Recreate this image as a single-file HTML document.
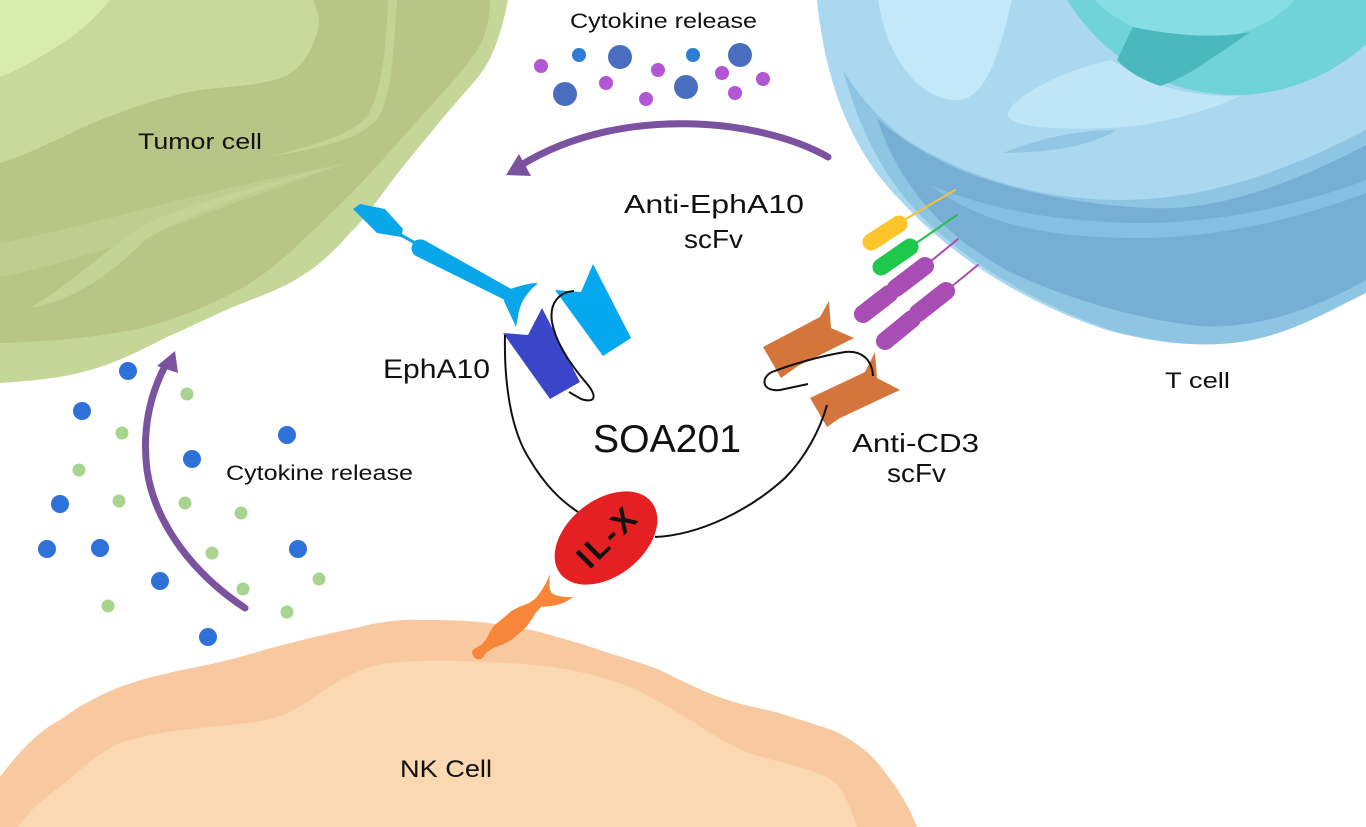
<!DOCTYPE html>
<html>
<head>
<meta charset="utf-8">
<style>
html,body{margin:0;padding:0;background:#fff;}
svg{display:block;}
text{font-family:"Liberation Sans","Noto Sans CJK JP",sans-serif;fill:#111;}
</style>
</head>
<body>
<svg width="1366" height="827" viewBox="0 0 1366 827" xmlns="http://www.w3.org/2000/svg">
<rect width="1366" height="827" fill="#fff"/>

<!-- ===== Tumor cell ===== -->
<path fill="#c4d698" d="M0,0 L508,0 C500,40 490,65 473,83 C460,98 445,115 433,130 C415,152 398,172 383,193 C370,210 362,222 350,233 C335,250 320,265 300,277 C280,290 255,298 233,307 C210,317 190,327 167,337 C145,348 122,360 100,367 C75,375 50,380 0,383 Z"/>
<path fill="#b8c587" d="M0,0 L490,0 C490,20 485,38 477,50 C463,72 445,90 427,110 C407,132 387,155 367,177 C345,200 322,222 300,243 C280,262 258,280 233,293 C200,310 165,323 133,330 C90,338 45,342 0,343 Z"/>
<path fill="#bfcd90" d="M0,243 C60,232 120,215 180,200 C240,185 300,172 347,163 C300,180 240,200 190,220 C120,245 60,265 0,277 Z"/>
<path fill="#c3d496" d="M347,163 C280,180 200,200 150,222 C110,245 70,285 30,308 C75,300 110,275 145,240 C190,212 270,185 347,163 Z"/>
<path fill="#c3d496" d="M388,0 L397,0 C393,55 392,95 378,118 C360,140 320,148 268,157 C315,145 352,135 368,115 C382,90 386,50 388,0 Z"/>
<path fill="#c9d99b" d="M0,0 L313,0 C320,15 320,25 317,33 C310,55 300,70 283,77 C260,86 230,86 200,90 C165,96 130,108 100,120 C65,135 35,152 0,163 Z"/>
<path fill="#d8ecb0" d="M0,0 L110,0 C95,18 82,30 67,40 C45,55 22,68 0,77 Z"/>

<!-- ===== T cell ===== -->
<path fill="#a9d8ef" d="M817,0 C825,80 850,150 900,200 C950,255 1020,300 1100,328 C1150,343 1200,348 1240,342 C1290,335 1330,310 1366,293 L1366,0 Z"/>
<path fill="#8dc5e3" d="M843,70 C862,140 890,185 925,220 C975,268 1040,305 1110,330 C1160,344 1205,347 1240,342 C1290,335 1330,310 1366,293 L1366,130 C1280,175 1200,200 1120,200 C1030,200 950,170 900,135 C872,112 855,90 843,70 Z"/>
<path fill="#77aed4" d="M877,118 C900,190 950,240 1010,272 C1070,300 1140,320 1200,326 C1260,330 1320,306 1366,280 L1366,145 C1300,180 1220,212 1150,208 C1080,205 1010,190 960,170 C920,152 895,135 877,118 Z"/>
<path fill="#86bfe1" d="M930,185 C990,210 1060,222 1140,223 C1220,223 1300,205 1366,180 L1366,193 C1300,218 1220,238 1140,238 C1060,238 985,228 930,185 Z"/>
<path fill="#92c6e5" d="M1003,153 C1040,138 1080,130 1117,130 C1090,145 1060,152 1003,153 Z"/>
<path fill="#c3e8f7" d="M878,0 C888,65 925,103 960,100 C990,96 1002,40 1012,0 Z"/>
<path fill="#bfe6f6" d="M1008,113 C1015,95 1060,72 1110,60 L1160,85 C1190,95 1220,97 1240,96 C1200,115 1150,126 1110,128 C1060,130 1005,128 1008,113 Z"/>
<!-- nucleus -->
<ellipse cx="1235" cy="-110" rx="199" ry="205" fill="#6fd3d8"/>
<ellipse cx="1195" cy="-60" rx="125" ry="100" fill="#86dde3"/>
<path fill="#4bb8bd" d="M1133,27 C1180,37 1220,38 1250,32 C1232,45 1215,56 1200,66 C1185,76 1172,82 1160,86 C1140,79 1126,70 1117,60 Z"/>

<!-- ===== NK cell ===== -->
<path fill="#f8c9a1" d="M0,777 C20,750 40,730 60,720 C80,705 100,695 120,687 C160,672 200,668 240,657 C280,645 320,635 360,627 C380,622 400,619 420,620 C440,620 460,620 480,622 C500,625 520,627 540,632 C560,638 580,643 600,650 C620,657 640,662 660,670 C680,680 700,690 719,697 C740,705 760,708 779,713 C800,720 820,725 839,733 C860,745 872,755 881,767 C895,785 905,800 911,813 L917,827 L0,827 Z"/>
<path fill="#fad8b2" d="M18,827 C30,810 45,797 60,787 C80,770 100,752 120,743 C150,733 180,730 210,727 C240,724 268,722 288,713 C305,705 320,692 336,683 C352,673 370,665 390,663 C420,660 450,660 480,662 C510,663 540,664 570,670 C590,674 612,680 630,687 C652,697 670,708 690,720 C710,733 730,746 749,753 C770,760 790,764 809,770 C825,776 835,780 839,787 C848,800 853,815 857,827 Z"/>

<!-- ===== Top cytokines ===== -->
<g fill="#4a6ebf">
<circle cx="620" cy="57" r="12"/><circle cx="565" cy="94" r="12"/><circle cx="686" cy="87" r="12"/><circle cx="740" cy="55" r="12"/>
</g>
<g fill="#2f7bd8">
<circle cx="579" cy="55" r="7"/><circle cx="693" cy="55" r="7"/>
</g>
<g fill="#b356d3">
<circle cx="541" cy="66" r="7"/><circle cx="606" cy="83" r="7"/><circle cx="658" cy="70" r="7"/><circle cx="646" cy="99" r="7"/><circle cx="722" cy="73" r="7"/><circle cx="735" cy="93" r="7"/><circle cx="763" cy="79" r="7"/>
</g>
<!-- top arrow -->
<path d="M828,157 C760,118 620,105 523,164" fill="none" stroke="#7b52a0" stroke-width="7" stroke-linecap="round"/>
<polygon points="506,175 519,154 531,176" fill="#7b52a0"/>

<!-- ===== Left cytokines ===== -->
<g fill="#2e71d8">
<circle cx="128" cy="371" r="9"/><circle cx="82" cy="411" r="9"/><circle cx="287" cy="435" r="9"/><circle cx="192" cy="459" r="9"/><circle cx="60" cy="504" r="9"/><circle cx="47" cy="549" r="9"/><circle cx="100" cy="548" r="9"/><circle cx="160" cy="581" r="9"/><circle cx="298" cy="549" r="9"/><circle cx="208" cy="637" r="9"/>
</g>
<g fill="#a9d490">
<circle cx="187" cy="394" r="6.5"/><circle cx="122" cy="433" r="6.5"/><circle cx="79" cy="470" r="6.5"/><circle cx="119" cy="501" r="6.5"/><circle cx="185" cy="503" r="6.5"/><circle cx="241" cy="513" r="6.5"/><circle cx="212" cy="553" r="6.5"/><circle cx="243" cy="589" r="6.5"/><circle cx="319" cy="579" r="6.5"/><circle cx="287" cy="612" r="6.5"/><circle cx="108" cy="606" r="6.5"/>
</g>
<path d="M245,608 C195,575 155,525 147,470 C142,430 150,395 165,366" fill="none" stroke="#7b52a0" stroke-width="7" stroke-linecap="round"/>
<polygon points="175,351 157,366 178,373" fill="#7b52a0"/>

<!-- ===== EphA10 receptor ===== -->
<polygon points="353,209 360,204 385,209 403,229 401,237 377,233" fill="#0aa6ea"/>
<line x1="399" y1="234" x2="419" y2="245" stroke="#0aa6ea" stroke-width="3"/>
<path fill="#0aa6ea" d="M424,240 L513,290 L507,301 L416,256 C408,252 411,236 424,240 Z"/>
<path fill="#0aa6ea" d="M506,290 C518,287 527,283 538,283 C530,290 524,297 521,305 C518,312 518,319 516,327 C512,318 507,308 504,301 Z"/>

<!-- anti-EphA10 scFv -->
<polygon points="555,290 581,292 593,264 631,338 603,356" fill="#05a8ee"/>
<polygon points="503,333 528,335 542,308 580,382 550,399" fill="#3b45c9"/>
<path d="M574,291 C560,292 549,302 552,322 C556,345 575,370 588,385 C598,398 594,403 581,399 L569,392" fill="none" stroke="#111" stroke-width="2"/>
<path d="M505,335 C504,380 510,430 530,460 C545,485 560,500 578,512" fill="none" stroke="#111" stroke-width="2"/>

<!-- ===== Anti-CD3 scFv ===== -->
<polygon points="763,347 820,317 829,301 831,328 854,338 798,366 781,378" fill="#d4763b"/>
<polygon points="810,398 865,372 875,352 877,378 900,390 840,418 827,427" fill="#d4763b"/>
<path d="M873,376 C872,360 862,350 845,352 C820,356 790,365 772,372 C760,378 762,392 780,390 L808,384" fill="none" stroke="#111" stroke-width="2"/>
<path d="M655,537 C700,535 750,510 785,478 C805,458 820,430 827,405" fill="none" stroke="#111" stroke-width="2"/>

<!-- ===== TCR/CD3 complex ===== -->
<g stroke-linecap="round" fill="none">
<line x1="899" y1="223" x2="955" y2="190" stroke="#f4c13b" stroke-width="2"/>
<line x1="912" y1="246" x2="957" y2="215" stroke="#24c24a" stroke-width="2"/>
<line x1="925" y1="266" x2="958" y2="239" stroke="#a84db3" stroke-width="2"/>
<line x1="946" y1="291" x2="978" y2="265" stroke="#a84db3" stroke-width="2"/>
<line x1="871" y1="242" x2="899" y2="224" stroke="#fcc52c" stroke-width="17"/>
<line x1="881" y1="267" x2="910" y2="247" stroke="#1ec84a" stroke-width="17"/>
<line x1="863" y1="314" x2="889" y2="294" stroke="#a84db3" stroke-width="18"/>
<line x1="896" y1="288" x2="925" y2="266" stroke="#a84db3" stroke-width="18"/>
<line x1="885" y1="341" x2="912" y2="319" stroke="#a84db3" stroke-width="18"/>
<line x1="918" y1="313" x2="946" y2="291" stroke="#a84db3" stroke-width="18"/>
</g>

<!-- ===== NK receptor ===== -->
<path fill="#f8863a" d="M474,657 C471,653 472,650 474.7,648.5 L481.8,644.6 L486.9,638.2 C490,631 493,626 497.5,622.8 L511.2,611.2 C518,607 524,605 528.2,603.4 L535,599 C541,592 546,584 550,574 C549,584 549,591 553,594 C559,597 566,597 573,597 C565,604 552,607 541.4,606.6 L536,612.6 C532,618 529,624 525.4,628 L511.7,639.6 C505,644 499,646 494.7,647.4 L487.6,651.4 L482.5,657.7 C480,660 476,660 474,657 Z"/>

<!-- ===== IL-X ===== -->
<ellipse cx="606" cy="538" rx="58" ry="38" transform="rotate(-38 606 538)" fill="#e42022"/>
<text x="608" y="549" font-size="32" font-weight="bold" text-anchor="middle" letter-spacing="3" transform="rotate(-45 606 538)">IL-X</text>

<!-- ===== Labels ===== -->
<text x="138" y="149" font-size="22" textLength="124" lengthAdjust="spacingAndGlyphs">Tumor cell</text>
<text x="570" y="28" font-size="21" textLength="187" lengthAdjust="spacingAndGlyphs">Cytokine release</text>
<text x="624" y="213" font-size="26" textLength="180" lengthAdjust="spacingAndGlyphs">Anti-EphA10</text>
<text x="684" y="248" font-size="26" textLength="59" lengthAdjust="spacingAndGlyphs">scFv</text>
<text x="383" y="378" font-size="27" textLength="107" lengthAdjust="spacingAndGlyphs">EphA10</text>
<text x="593" y="452" font-size="39" textLength="148" lengthAdjust="spacingAndGlyphs">SOA201</text>
<text x="852" y="452" font-size="26" textLength="127" lengthAdjust="spacingAndGlyphs">Anti-CD3</text>
<text x="887" y="482" font-size="26" textLength="59" lengthAdjust="spacingAndGlyphs">scFv</text>
<text x="226" y="480" font-size="21" textLength="187" lengthAdjust="spacingAndGlyphs">Cytokine release</text>
<text x="1165" y="388" font-size="22" textLength="65" lengthAdjust="spacingAndGlyphs">T cell</text>
<text x="400" y="777" font-size="24" textLength="92" lengthAdjust="spacingAndGlyphs">NK Cell</text>
</svg>
</body>
</html>
